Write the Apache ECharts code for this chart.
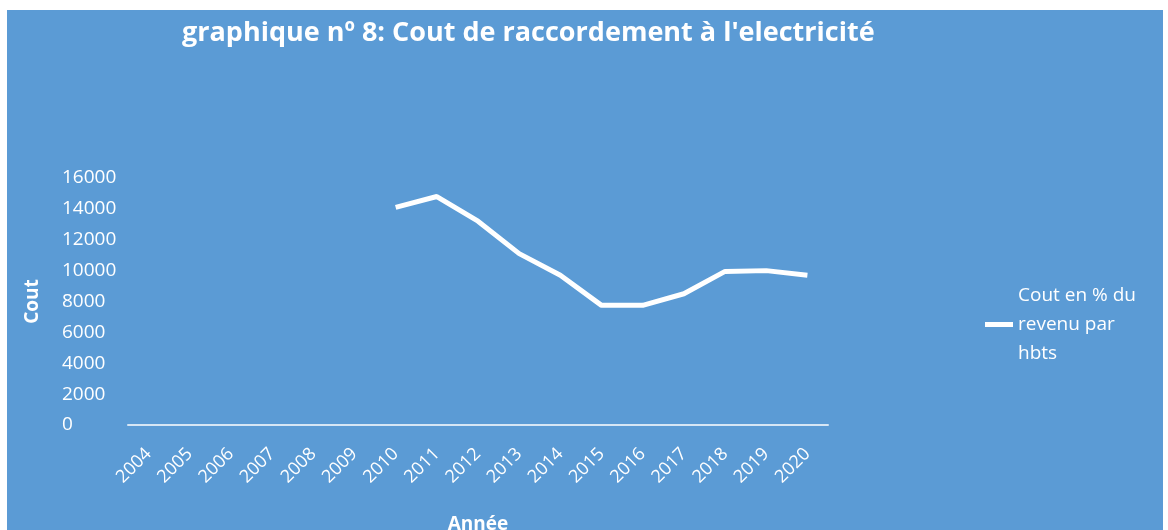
<!DOCTYPE html>
<html>
<head>
<meta charset="utf-8">
<script src="https://cdn.jsdelivr.net/npm/echarts@6/dist/echarts.min.js"></script>
<style>
  body { margin: 0; background: #ffffff; }
  #main { position: absolute; left: 7px; top: 10px; width: 1156px; height: 520px; background: #5b9bd5; }
</style>
</head>
<body>
<div id="main"></div>
<script>
// données du graphique
var annees = ['2004', '2005', '2006', '2007', '2008', '2009', '2010', '2011', '2012',
  '2013', '2014', '2015', '2016', '2017', '2018', '2019', '2020'];
var cout = [null, null, null, null, null, null, 14100, 14800, 13200, 11100, 9700,
  7750, 7750, 8500, 9950, 10000, 9700];
var nomSerie = 'Cout en % du revenu par hbts';

var myChart = echarts.init(document.getElementById('main'));
var police = '"Open Sans", sans-serif';

var option = {
  backgroundColor: '#5b9bd5',
  animation: false,
  textStyle: { fontFamily: police, color: '#ffffff' },
  title: {
    text: "graphique nº 8: Cout de raccordement à l'electricité",
    left: 170,
    top: 5,
    textStyle: { color: '#ffffff', fontSize: 27, fontWeight: 'bold', fontFamily: police }
  },
  legend: {
    orient: 'vertical',
    left: 973,
    top: 266,
    itemWidth: 28,
    itemHeight: 5,
    icon: 'rect',
    formatter: function () { return 'Cout en % du\nrevenu par\nhbts'; },
    textStyle: { color: '#ffffff', fontSize: 19, lineHeight: 29, fontFamily: police }
  },
  grid: { left: 121, right: 335, top: 168, bottom: 105, outerBoundsMode: 'none' },
  xAxis: {
    type: 'category',
    data: annees,
    boundaryGap: true,
    name: 'Année',
    nameLocation: 'middle',
    nameGap: 90,
    nameTextStyle: { color: '#ffffff', fontSize: 19, fontWeight: 'bold' },
    axisLine: { lineStyle: { color: 'rgba(255,255,255,0.75)', width: 2 } },
    axisTick: { show: false },
    axisLabel: { color: '#ffffff', fontSize: 18, rotate: 45, margin: 26, interval: 0 }
  },
  yAxis: {
    type: 'value',
    min: 0,
    max: 16000,
    interval: 2000,
    name: 'Cout',
    nameLocation: 'middle',
    nameGap: 86,
    nameTextStyle: { color: '#ffffff', fontSize: 19, fontWeight: 'bold' },
    axisLine: { show: false },
    axisTick: { show: false },
    splitLine: { show: false },
    axisLabel: {
      color: '#ffffff', fontSize: 19, align: 'left', margin: 66,
      formatter: function (v) { return String(v); }
    }
  },
  series: [{
    name: nomSerie,
    type: 'line',
    data: cout,
    symbol: 'none',
    connectNulls: false,
    lineStyle: { color: '#ffffff', width: 5 },
    itemStyle: { color: '#ffffff' }
  }]
};

myChart.setOption(option);
</script>
</body>
</html>
